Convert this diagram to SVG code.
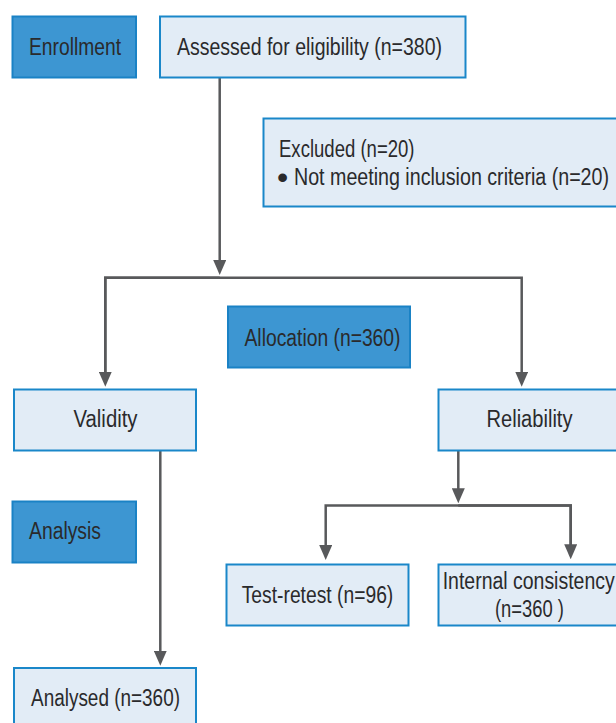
<svg xmlns="http://www.w3.org/2000/svg" width="616" height="723" viewBox="0 0 616 723">
<defs>
<style>
.dark{fill:#3d96d2;stroke:#1a82c5;stroke-width:2}
.light{fill:#e2ecf6;stroke:#1a87c9;stroke-width:2}
text{font-family:"Liberation Sans",Arial,sans-serif;font-size:23px;fill:#2a2a2c}
.conn{fill:none;stroke:#58595b;stroke-width:2.5}
</style>
<marker id="arr" viewBox="0 0 15 13" refX="11" refY="6.5" markerWidth="15" markerHeight="13" markerUnits="userSpaceOnUse" orient="auto">
<path d="M0,0 L15,6.5 L0,13 z" fill="#58595b"/>
</marker>
</defs>
<rect width="616" height="723" fill="#ffffff"/>
<g id="connectors">
<path class="conn" d="M219.7,78 V271" marker-end="url(#arr)"/>
<path class="conn" d="M105.3,382.7 V277.7 H521.7 V382.7" marker-end="url(#arr)"/>
<path class="conn" d="M219.7,277.7 H105.3 V382.7" marker-end="url(#arr)"/>
<path class="conn" d="M160.3,451 V661.7" marker-end="url(#arr)"/>
<path class="conn" d="M458.3,451 V499.3" marker-end="url(#arr)"/>
<path class="conn" d="M570.7,555.3 V505.5 H325.7 V556" marker-end="url(#arr)"/>
<path class="conn" d="M458.3,505.5 H570.7 V555.3" marker-end="url(#arr)"/>
</g>
<g id="enrollment">
<rect class="dark" x="12.5" y="16.5" width="123.5" height="61"/>
<text x="29" y="54.5" textLength="92" lengthAdjust="spacingAndGlyphs">Enrollment</text>
</g>
<g id="assessed">
<rect class="light" x="160" y="16.5" width="305.5" height="61"/>
<text x="177" y="54.5" textLength="265" lengthAdjust="spacingAndGlyphs">Assessed for eligibility (n=380)</text>
</g>
<g id="excluded">
<rect class="light" x="263.5" y="118.5" width="360" height="88"/>
<text x="279" y="157" textLength="135.5" lengthAdjust="spacingAndGlyphs">Excluded (n=20)</text>
<text x="277" y="188"><tspan font-size="32">•</tspan><tspan x="294" y="184.5" textLength="315" lengthAdjust="spacingAndGlyphs">Not meeting inclusion criteria (n=20)</tspan></text>
</g>
<g id="allocation">
<rect class="dark" x="228" y="306.5" width="182" height="61"/>
<text x="244.5" y="345.5" textLength="156" lengthAdjust="spacingAndGlyphs">Allocation (n=360)</text>
</g>
<g id="validity">
<rect class="light" x="14" y="389.5" width="182" height="61"/>
<text x="73.5" y="427" textLength="64" lengthAdjust="spacingAndGlyphs">Validity</text>
</g>
<g id="reliability">
<rect class="light" x="438.5" y="389.5" width="200" height="61"/>
<text x="486.5" y="427" textLength="86" lengthAdjust="spacingAndGlyphs">Reliability</text>
</g>
<g id="analysis">
<rect class="dark" x="12.5" y="501.5" width="123.5" height="61"/>
<text x="29" y="539.3" textLength="72" lengthAdjust="spacingAndGlyphs">Analysis</text>
</g>
<g id="testretest">
<rect class="light" x="226.5" y="564.5" width="182" height="61"/>
<text x="241.7" y="602.7" textLength="151.6" lengthAdjust="spacingAndGlyphs">Test-retest (n=96)</text>
</g>
<g id="internal">
<rect class="light" x="438.5" y="564.5" width="200" height="61"/>
<text x="442.7" y="589.3" textLength="172" lengthAdjust="spacingAndGlyphs">Internal consistency</text>
<text x="495" y="617.3" textLength="69" lengthAdjust="spacingAndGlyphs">(n=360 )</text>
</g>
<g id="analysed">
<rect class="light" x="14" y="668" width="182" height="70"/>
<text x="31" y="706" textLength="149" lengthAdjust="spacingAndGlyphs">Analysed (n=360)</text>
</g>
</svg>
